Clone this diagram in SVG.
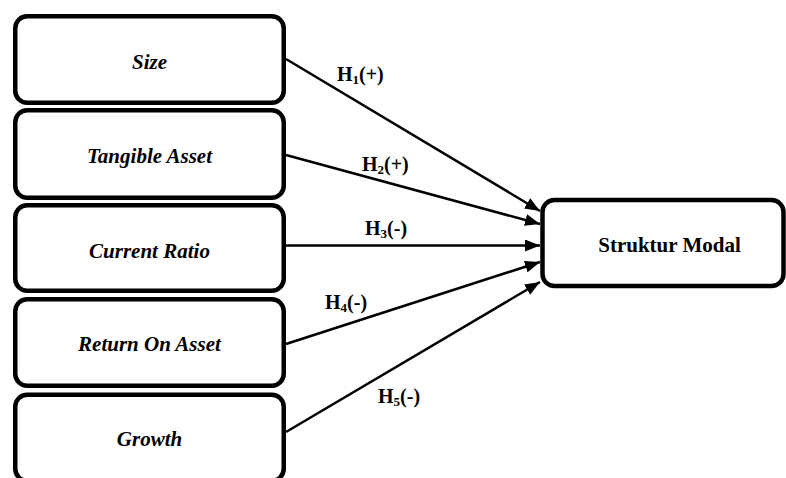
<svg xmlns="http://www.w3.org/2000/svg" width="786" height="478" viewBox="0 0 786 478">
<style>
.box{fill:#fff;stroke:#000;stroke-width:4.5}
.lbl{font-family:"Liberation Serif","Times New Roman",serif;font-weight:bold;font-style:italic;font-size:21px;fill:#000;text-anchor:middle}
.main{font-family:"Liberation Serif","Times New Roman",serif;font-weight:bold;font-size:21px;fill:#000;text-anchor:middle}
.h{font-family:"Liberation Serif","Times New Roman",serif;font-weight:bold;font-size:20px;fill:#000}
.sub{font-size:13px}
.edge{stroke:#000;stroke-width:2.5;fill:none;marker-end:url(#arr)}
</style>
<defs>
<marker id="arr" markerUnits="userSpaceOnUse" markerWidth="15" markerHeight="12" refX="15" refY="6" orient="auto">
<path d="M0,0 L15,6 L0,12 z" fill="#000"/>
</marker>
</defs>
<rect width="786" height="478" fill="#fff"/>
<g id="connectors">
<line class="edge" x1="286" y1="59" x2="540" y2="211"/>
<line class="edge" x1="286" y1="155" x2="540" y2="224"/>
<line class="edge" x1="286" y1="245.5" x2="540" y2="245.5"/>
<line class="edge" x1="286" y1="344" x2="540" y2="262"/>
<line class="edge" x1="286" y1="432" x2="540" y2="282"/>
<text class="h" x="337" y="81">H<tspan class="sub" dy="3">1</tspan><tspan dy="-3">(+)</tspan></text>
<text class="h" x="362" y="171">H<tspan class="sub" dy="3">2</tspan><tspan dy="-3">(+)</tspan></text>
<text class="h" x="365" y="235">H<tspan class="sub" dy="3">3</tspan><tspan dy="-3">(-)</tspan></text>
<text class="h" x="325" y="309">H<tspan class="sub" dy="3">4</tspan><tspan dy="-3">(-)</tspan></text>
<text class="h" x="378" y="403">H<tspan class="sub" dy="3">5</tspan><tspan dy="-3">(-)</tspan></text>
</g>
<g id="size">
<rect class="box" x="15.25" y="16.25" width="268.5" height="86.5" rx="12"/>
<text class="lbl" x="149.5" y="69">Size</text>
</g>
<g id="tangible-asset">
<rect class="box" x="15.25" y="110.25" width="268.5" height="87.5" rx="12"/>
<text class="lbl" x="149.5" y="163">Tangible Asset</text>
</g>
<g id="current-ratio">
<rect class="box" x="15.25" y="205.25" width="268.5" height="85.5" rx="12"/>
<text class="lbl" x="149.5" y="258">Current Ratio</text>
</g>
<g id="return-on-asset">
<rect class="box" x="15.25" y="299.25" width="268.5" height="86.5" rx="12"/>
<text class="lbl" x="149.5" y="351">Return On Asset</text>
</g>
<g id="growth">
<rect class="box" x="15.25" y="394.75" width="268.5" height="86" rx="12"/>
<text class="lbl" x="149.5" y="446">Growth</text>
</g>
<g id="struktur-modal">
<rect class="box" x="542.5" y="200" width="241" height="86" rx="12"/>
<text class="main" x="669.5" y="252">Struktur Modal</text>
</g>
</svg>
